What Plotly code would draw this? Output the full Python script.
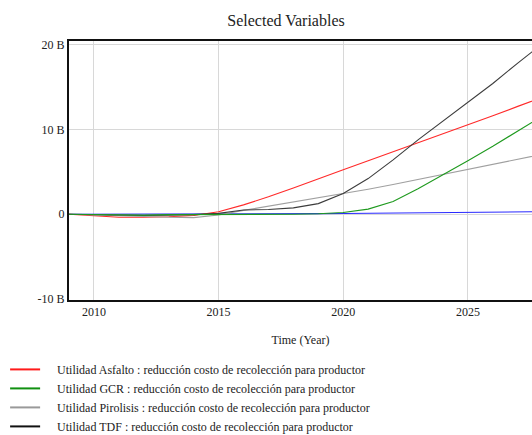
import plotly.graph_objects as go

years = list(range(2009, 2031))

asfalto = [0, -0.2, -0.35, -0.35, -0.3, -0.15, 0.3, 1.1, 2.05, 3.1, 4.2, 5.25,
           6.3, 7.35, 8.4, 9.45, 10.5, 11.6, 12.7, 13.8, 14.9, 16.0]
gcr = [0, -0.05, -0.1, -0.1, -0.05, -0.05, 0, 0, 0, 0, 0.05, 0.2,
       0.6, 1.5, 3.0, 4.6, 6.3, 8.0, 9.8, 11.6, 13.4, 15.2]
pirolisis = [0, -0.1, -0.2, -0.3, -0.35, -0.4, -0.1, 0.45, 0.95, 1.45, 1.9, 2.37,
             2.95, 3.5, 4.1, 4.65, 5.25, 5.85, 6.45, 7.05, 7.65, 8.25]
tdf = [0, -0.05, -0.15, -0.15, -0.1, -0.05, 0.1, 0.5, 0.55, 0.75, 1.25, 2.45,
       4.2, 6.4, 8.75, 10.95, 13.1, 15.4, 17.8, 20.1, 22.4, 24.7]
otro = [0, 0, 0, 0, 0, 0, 0, 0.02, 0.03, 0.05, 0.07, 0.09,
        0.11, 0.13, 0.15, 0.17, 0.2, 0.23, 0.27, 0.3, 0.33, 0.36]

# drawn bottom to top
series = [
    ("Utilidad Triturado : reducción costo de recolección para productor", otro, "#2a2aff", False),
    ("Utilidad Asfalto : reducción costo de recolección para productor", asfalto, "#ff2a2a", True),
    ("Utilidad Pirolisis : reducción costo de recolección para productor", pirolisis, "#a0a0a0", True),
    ("Utilidad TDF : reducción costo de recolección para productor", tdf, "#3c3c3c", True),
    ("Utilidad GCR : reducción costo de recolección para productor", gcr, "#1f9a1f", True),
]
legend_order = [
    ("Utilidad Asfalto : reducción costo de recolección para productor", "#ff1a1a"),
    ("Utilidad GCR : reducción costo de recolección para productor", "#109010"),
    ("Utilidad Pirolisis : reducción costo de recolección para productor", "#999999"),
    ("Utilidad TDF : reducción costo de recolección para productor", "#111111"),
]

y_tickvals = [20, 10, 0, -10]
y_ticktext = ["20 B", "10 B", "0", "-10 B"]
x_tickvals = [2010, 2015, 2020, 2025]

FONT = "Liberation Serif, Times New Roman, serif"
PAD = "\u00a0" * 4

fig = go.Figure()
for name, vals, color, show in series:
    fig.add_trace(go.Scatter(x=years, y=vals, name=name, mode="lines",
                             line=dict(color=color, width=1.1), showlegend=False))
# legend entries (no data drawn)
for name, color in legend_order:
    fig.add_trace(go.Scatter(x=[None], y=[None], name=PAD + name, mode="lines",
                             line=dict(color=color, width=2), showlegend=True))

fig.update_layout(
    width=532, height=435,
    margin=dict(l=69, r=0, t=41, b=135, autoexpand=False),
    paper_bgcolor="white", plot_bgcolor="white",
    font=dict(family=FONT, size=12, color="#222"),
    title=dict(text="Selected Variables", font=dict(family=FONT, size=16, color="#222"),
               x=(286 - 69) / 463, xref="paper", xanchor="center",
               y=1 - 20 / 435, yref="container", yanchor="middle"),
    showlegend=True,
    legend=dict(x=-0.138, y=-0.212, xanchor="left", yanchor="top",
                font=dict(family=FONT, size=12, color="#222"),
                bgcolor="rgba(0,0,0,0)", itemwidth=30, traceorder="normal"),
)
fig.update_xaxes(range=[2009, 2009 + 463 / 24.93], tickvals=x_tickvals,
                 showgrid=True, gridcolor="#d8d8d8", gridwidth=1,
                 showline=True, linecolor="#111", linewidth=2, mirror=True,
                 ticks="", zeroline=False,
                 title=dict(text="Time (Year)", font=dict(family=FONT, size=12, color="#222"),
                            standoff=17))
fig.update_yaxes(range=[-10.1, 20.4], tickvals=y_tickvals, ticktext=y_ticktext,
                 showgrid=True, gridcolor="#d8d8d8", gridwidth=1,
                 showline=True, linecolor="#111", linewidth=2, mirror=False,
                 ticks="", zeroline=False, ticklabelstandoff=0)

fig.write_html("out.html")
